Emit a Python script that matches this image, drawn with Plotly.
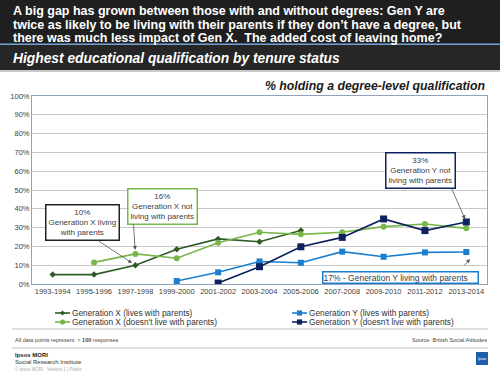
import plotly.graph_objects as go

periods = ["1993-1994", "1995-1996", "1997-1998", "1999-2000", "2001-2002", "2003-2004",
           "2005-2006", "2007-2008", "2009-2010", "2011-2012", "2013-2014"]
gen_x_lives = [5, 5, 10, 18.5, 24, 22.5, 28.5, None, None, None, None]
gen_x_not = [None, 11.5, 16, 13.7, 22, 27.5, 26.4, 27.5, 30.5, 31.9, 29.6]
gen_y_lives = [None, None, None, 1.6, 6.2, 12, 11.3, 17.2, 14.5, 16.8, 17]
gen_y_not = [None, None, None, None, 0.5, 9.2, 19.8, 24.8, 34.6, 28.4, 33]
y_ticks = [0, 10, 20, 30, 40, 50, 60, 70, 80, 90, 100]
y_tick_labels = ["0%", "10%", "20%", "30%", "40%", "50%", "60%", "70%", "80%", "90%", "100%"]

W, H = 500, 375
L, R, T, B = 32, 487, 96, 284
FONT = "Liberation Sans, Arial, sans-serif"


def px(x):
    return x / W


def py(y):
    return 1 - y / H


fig = go.Figure()
series = [
    ("Generation X (lives with parents)", gen_x_lives, "#2f5a27", "diamond", 5),
    ("Generation Y (lives with parents)", gen_y_lives, "#1b7fd0", "square", 6),
    ("Generation X (doesn't live with parents)", gen_x_not, "#78b64a", "circle", 6),
    ("Generation Y (doesn't live with parents)", gen_y_not, "#0c215e", "square", 7),
]
for name, vals, col, sym, ms in series:
    fig.add_trace(go.Scatter(
        x=periods, y=vals, name=name, mode="lines+markers",
        line=dict(color=col, width=1.6),
        marker=dict(color=col, symbol=sym, size=ms),
        connectgaps=False, showlegend=False,
    ))

P = dict(xref="paper", yref="paper")
shapes = [
    dict(P, type="rect", x0=0, x1=1, y0=py(44), y1=1,
         fillcolor="#1f1f1f", line=dict(width=0), layer="below"),
    dict(P, type="line", x0=0, x1=1, y0=py(44), y1=py(44),
         line=dict(color="#4f7fb3", width=1.5)),
    dict(P, type="rect", x0=0, x1=1, y0=py(70), y1=py(45),
         fillcolor="#262626", line=dict(width=0), layer="below"),
    dict(P, type="line", x0=0, x1=1, y0=py(71), y1=py(71),
         line=dict(color="#b8b8b8", width=1.5)),
    dict(P, type="line", x0=px(12), x1=px(488), y0=py(329), y1=py(329),
         line=dict(color="#d4d4d4", width=1.5)),
    dict(P, type="line", x0=px(12), x1=px(488), y0=py(348), y1=py(348),
         line=dict(color="#d4d4d4", width=1.5)),
    dict(P, type="rect", x0=px(476), x1=px(488), y0=py(365), y1=py(352),
         fillcolor="#1f5fae", line=dict(width=0)),
]

ann = []
title_lines = [
    "A big gap has grown between those with and without degrees: Gen Y are",
    "twice as likely to be living with their parents if they don\u2019t have a degree, but",
    "there was much less impact of Gen X.  The added cost of leaving home?",
]
for i, line in enumerate(title_lines):
    ann.append(dict(P, x=px(11), y=py(11 + 13.5 * i), xanchor="left", yanchor="middle",
                    showarrow=False, text="<b>" + line + "</b>",
                    font=dict(family=FONT, size=12.5, color="white")))
ann.append(dict(P, x=px(11), y=py(58), xanchor="left", yanchor="middle",
                showarrow=False, text="<b><i>Highest educational qualification by tenure status</i></b>",
                font=dict(family=FONT, size=13.8, color="white")))
ann.append(dict(P, x=px(487), y=py(86), xanchor="right", yanchor="middle",
                showarrow=False, text="<b><i>% holding a degree-level qualification</i></b>",
                font=dict(family=FONT, size=12.3, color="#1a1a1a")))

afont = dict(family=FONT, size=8, color="#404040")
C = dict(xanchor="center", yanchor="middle", showarrow=False, bgcolor="white")
ann.append(dict(P, **C, x=px(82), y=py(222.5),
                text="10%<br>Generation X living<br>with parents", font=afont,
                bordercolor="#222222", borderwidth=1.5, borderpad=2))
ann.append(dict(P, **C, x=px(162), y=py(206.5),
                text="16%<br>Generation X not<br>living with parents", font=afont,
                bordercolor="#78b64a", borderwidth=1.5, borderpad=2))
ann.append(dict(P, **C, x=px(420.5), y=py(170),
                text="33%<br>Generation Y not<br>living with parents", font=afont,
                bordercolor="#0c215e", borderwidth=1.5, borderpad=2))
ann.append(dict(P, **C, x=px(400.5), y=py(277),
                text="17% - Generation Y living with parents    ",
                font=dict(family=FONT, size=8.5, color="#404040"), align="left",
                bordercolor="#1b7fd0", borderwidth=1.5, borderpad=0))
arrow = dict(showarrow=True, arrowhead=2, arrowsize=1, arrowwidth=0.8, arrowcolor="#555555", text="")
ann.append(dict(arrow, x="1997-1998", y=10, ax=-38, ay=-25, standoff=4))
ann.append(dict(arrow, x="1997-1998", y=16, ax=-2, ay=-31, standoff=4))
ann.append(dict(arrow, x="2013-2014", y=33, ax=-15, ay=-34, standoff=3))
ann.append(dict(arrow, xref="paper", yref="paper", x=px(470), y=py(259), ax=-7, ay=8, standoff=0))

# manual legend (two columns)
leg_pos = [(55, 313), (292, 313), (55, 322), (292, 322)]
for (name, vals, col, sym, ms), (lx, ly) in zip(series, leg_pos):
    shapes.append(dict(P, type="line", x0=px(lx), x1=px(lx + 15), y0=py(ly), y1=py(ly),
                       line=dict(color=col, width=1.6)))
    cx, r = lx + 7.5, 2.6
    if sym == "square":
        shapes.append(dict(P, type="rect", x0=px(cx - r), x1=px(cx + r), y0=py(ly + r), y1=py(ly - r),
                           fillcolor=col, line=dict(width=0)))
    elif sym == "circle":
        shapes.append(dict(P, type="circle", x0=px(cx - r), x1=px(cx + r), y0=py(ly + r), y1=py(ly - r),
                           fillcolor=col, line=dict(width=0)))
    else:
        path = "M {} {} L {} {} L {} {} L {} {} Z".format(
            px(cx - r), py(ly), px(cx), py(ly - r), px(cx + r), py(ly), px(cx), py(ly + r))
        shapes.append(dict(P, type="path", path=path, fillcolor=col, line=dict(width=0)))
    ann.append(dict(P, x=px(lx + 15), y=py(ly), xanchor="left", yanchor="middle", showarrow=False,
                    text=name, font=dict(family=FONT, size=8.3, color="#333333")))

# footer
ann.append(dict(P, x=px(13), y=py(340), xanchor="left", yanchor="middle",
                showarrow=False, text="All data points represent  > <b>100</b> responses",
                font=dict(family=FONT, size=5.5, color="#444444")))
ann.append(dict(P, x=px(489), y=py(340), xanchor="right", yanchor="middle",
                showarrow=False, text="Source: British Social Attitudes",
                font=dict(family=FONT, size=5.5, color="#444444")))
ann.append(dict(P, x=px(13), y=py(355), xanchor="left", yanchor="middle",
                showarrow=False, text="<b>Ipsos MORI</b>",
                font=dict(family=FONT, size=6, color="#222222")))
ann.append(dict(P, x=px(13), y=py(362), xanchor="left", yanchor="middle",
                showarrow=False, text="Social Research Institute",
                font=dict(family=FONT, size=6, color="#333333")))
ann.append(dict(P, x=px(13), y=py(369), xanchor="left", yanchor="middle",
                showarrow=False, text="\u00a9 Ipsos MORI   Version 1 | Public",
                font=dict(family=FONT, size=4.5, color="#aaaaaa")))
ann.append(dict(P, x=px(482), y=py(358.5), xanchor="center", yanchor="middle",
                showarrow=False, text="Ipsos",
                font=dict(family=FONT, size=3.5, color="white")))

fig.update_layout(
    width=W, height=H,
    margin=dict(l=0, r=0, t=0, b=0, pad=0),
    paper_bgcolor="white", plot_bgcolor="white",
    font=dict(family=FONT, color="#404040"),
    shapes=shapes, annotations=ann,
    showlegend=False,
    xaxis=dict(type="category", categoryorder="array", categoryarray=periods,
               domain=[L / W, R / W], automargin=False,
               showgrid=False, ticks="", tickfont=dict(family=FONT, size=7.5, color="#404040"),
               showline=True, linecolor="#8fa2bf", linewidth=1, mirror=True,
               range=[-0.5, len(periods) - 0.5], fixedrange=True),
    yaxis=dict(range=[0, 100], tickmode="array", tickvals=y_ticks, ticktext=y_tick_labels,
               domain=[1 - B / H, 1 - T / H], automargin=False,
               showgrid=True, gridcolor="#c8c8c8", gridwidth=1, zeroline=False,
               tickfont=dict(family=FONT, size=7.5, color="#404040"),
               showline=True, linecolor="#8fa2bf", linewidth=1, mirror=True,
               ticks="", ticklen=0, fixedrange=True),
)

fig.write_html("out.html", config={"displayModeBar": False},
               post_script="document.body.style.margin='0';document.body.style.overflow='hidden';")
